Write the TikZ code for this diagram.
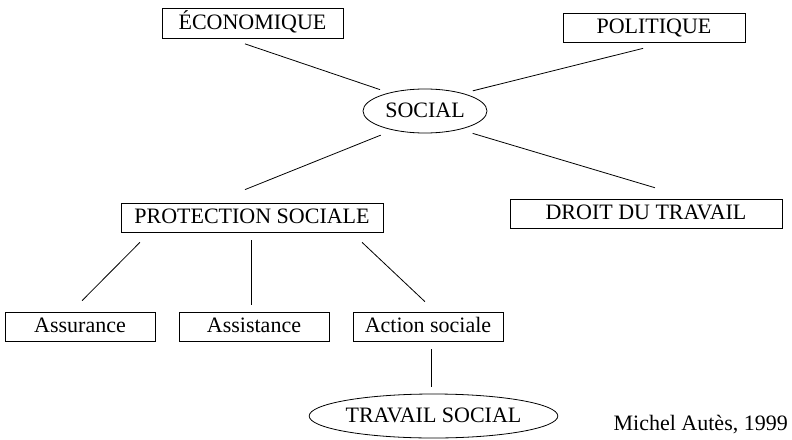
\documentclass[tikz,border=0pt]{standalone}
\usepackage{fontspec}
\setmainfont{Liberation Serif}
\usetikzlibrary{shapes.geometric}
\begin{document}
\begin{tikzpicture}[x=1pt,y=-1pt,
  every node/.style={font=\fontsize{22}{26}\selectfont, inner sep=0pt, text height=14.6pt, text depth=2pt},
  rbox/.style={draw, line width=0.8pt, rectangle, minimum height=29pt},
  ebox/.style={draw, line width=0.8pt, ellipse},
  link/.style={draw, line width=0.8pt}]
\useasboundingbox (0,0) rectangle (792,439);

\node[rbox, minimum width=181pt, minimum height=30pt] (eco) at (252.5,23.5) {ÉCONOMIQUE};
\node[rbox, minimum width=182pt] (pol) at (654,27.5) {POLITIQUE};
\node[ebox, minimum width=124pt, minimum height=44pt] (soc) at (425,111) {SOCIAL};
\node[rbox, minimum width=262pt] (prot) at (252,217.5) {PROTECTION SOCIALE};
\node[rbox, minimum width=272pt] (droit) at (646,213.5) {DROIT DU TRAVAIL};
\node[rbox, minimum width=150pt] (assur) at (80,326.5) {Assurance};
\node[rbox, minimum width=150pt] (assist) at (254,326.5) {Assistance};
\node[rbox, minimum width=150pt] (action) at (428,326.5) {Action sociale};
\node[ebox, minimum width=219pt, minimum height=44pt] (trav) at (433.5,416) {TRAVAIL SOCIAL};
\node[anchor=base east] (auteur) at (788,430) {Michel Autès, 1999};

\draw[link, shorten <=15.5pt, shorten >=9.6pt] ([xshift=-22.2pt]eco.south) -- (soc.153.5);
\draw[link, shorten <=24.6pt, shorten >=10pt] ([xshift=12.9pt]pol.south) -- (soc.25.2);
\draw[link, shorten <=13.2pt, shorten >=34.9pt] (soc.211.8) -- ([xshift=-39.4pt]prot.north);
\draw[link, shorten <=13.3pt, shorten >=38pt] (soc.332.9) -- ([xshift=45.4pt]droit.north);
\draw[link, shorten <=14pt, shorten >=15.4pt] ([xshift=-102.2pt]prot.south) -- ([xshift=-8.8pt]assur.north);
\draw[link, shorten <=8pt, shorten >=7pt] ([xshift=-1pt]prot.south) -- ([xshift=-1pt]prot.south |- assist.north);
\draw[link, shorten <=14.5pt, shorten >=14.5pt] ([xshift=99.5pt]prot.south) -- ([xshift=7.5pt]action.north);
\draw[link, shorten <=8pt, shorten >=7pt] ([xshift=3pt]action.south) -- ([xshift=3pt]action.south |- trav.north);
\end{tikzpicture}
\end{document}
